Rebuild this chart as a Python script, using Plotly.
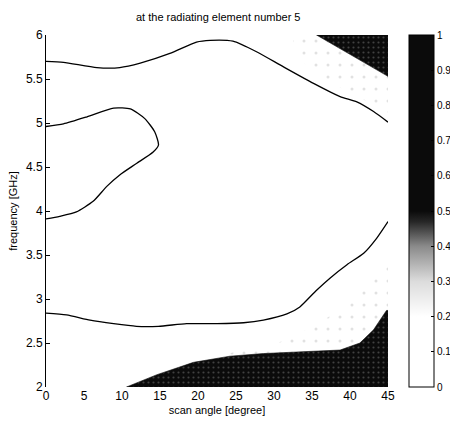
import plotly.graph_objects as go

# ---- data ----
# contour line 1 (upper)
c1_x = [0, 2.3, 6.7, 9.7, 12.4, 16.3, 19.8, 21.6, 24.6, 27.7, 31.2, 35.2, 38.7, 40.9, 43.1, 45]
c1_y = [5.70, 5.69, 5.63, 5.63, 5.68, 5.79, 5.92, 5.94, 5.93, 5.81, 5.64, 5.45, 5.30, 5.24, 5.13, 5.01]
# contour line 2 (loop on the left)
c2_x = [0, 2.3, 5.4, 8.9, 11.1, 13.0, 14.3, 14.8, 14.1, 11.9, 9.7, 8.0, 6.2, 4.0, 1.8, 0]
c2_y = [4.96, 4.99, 5.07, 5.17, 5.16, 5.05, 4.90, 4.75, 4.67, 4.54, 4.41, 4.28, 4.11, 3.99, 3.94, 3.91]
# contour line 3 (lower)
c3_x = [0, 2.7, 5.8, 8.9, 11.9, 14.8, 18.5, 22.5, 26.0, 28.6, 31.7, 33.4, 35.6, 37.4, 39.6, 41.8, 43.5, 45]
c3_y = [2.84, 2.82, 2.76, 2.72, 2.69, 2.69, 2.72, 2.72, 2.73, 2.76, 2.83, 2.91, 3.10, 3.24, 3.39, 3.52, 3.69, 3.88]

# dark filled region, bottom right
d1_x = [10.6, 14.6, 19.4, 24.2, 28.6, 33.0, 38.7, 41.3, 43.1, 44.8, 45, 45, 10.6]
d1_y = [2.00, 2.14, 2.28, 2.35, 2.38, 2.40, 2.42, 2.50, 2.65, 2.87, 2.87, 2.00, 2.00]
# dark filled region, top right
d2_x = [35.6, 45, 45, 35.6]
d2_y = [6.00, 6.00, 5.53, 6.00]

# light (stippled) region around the top right dark area
l1_x = [32.5, 35.6, 45, 45, 41, 37, 34, 32.5]
l1_y = [6.00, 6.00, 5.53, 5.12, 5.30, 5.48, 5.68, 5.88]
# light (stippled) region above the bottom right dark area
l2_x = [19.4, 25, 30, 35, 40, 43, 45, 45, 44.8, 43.1, 41.3, 38.7, 33.0, 28.6, 24.2, 19.4]
l2_y = [2.28, 2.40, 2.48, 2.68, 2.95, 3.20, 3.40, 2.87, 2.87, 2.65, 2.50, 2.42, 2.40, 2.38, 2.35, 2.28]

x_ticks = [0, 5, 10, 15, 20, 25, 30, 35, 40, 45]
y_ticks = [2, 2.5, 3, 3.5, 4, 4.5, 5, 5.5, 6]
cb_ticks = [0, 0.1, 0.2, 0.3, 0.4, 0.5, 0.6, 0.7, 0.8, 0.9, 1]
cb_labels = ["0", "0.1", "0.2", "0.3", "0.4", "0.5", "0.6", "0.7", "0.8", "0.9", "1"]

FONT = "Liberation Sans, Arial, sans-serif"

fig = go.Figure()

stipple = dict(shape=".", fgcolor="#c4c4c4", bgcolor="white", size=12, solidity=0.05)
for lx, ly in [(l1_x, l1_y), (l2_x, l2_y)]:
    fig.add_trace(go.Scatter(x=lx, y=ly, mode="lines", fill="toself",
                             fillcolor="white", fillpattern=stipple,
                             line=dict(width=0), hoverinfo="skip", showlegend=False))

dark_pat = dict(shape=".", fgcolor="#777777", bgcolor="#0b0b0b", size=5, solidity=0.15)
for dx, dy in [(d1_x, d1_y), (d2_x, d2_y)]:
    fig.add_trace(go.Scatter(x=dx, y=dy, mode="lines", fill="toself",
                             fillcolor="#0b0b0b", fillpattern=dark_pat,
                             line=dict(width=0.6, color="#0b0b0b"),
                             hoverinfo="skip", showlegend=False))

for cx, cy in [(c1_x, c1_y), (c2_x, c2_y), (c3_x, c3_y)]:
    fig.add_trace(go.Scatter(x=cx, y=cy, mode="lines",
                             line=dict(color="black", width=1.3, shape="spline", smoothing=0.6),
                             hoverinfo="skip", showlegend=False))

# colorbar carrier
fig.add_trace(go.Scatter(
    x=[None], y=[None], mode="markers", showlegend=False,
    marker=dict(color=[0], cmin=0, cmax=1, showscale=True,
                colorscale=[[0, "white"], [0.2, "white"], [0.3, "#dcdcdc"],
                            [0.4, "#8a8a8a"], [0.47, "#262626"], [0.5, "#0b0b0b"], [1, "#0b0b0b"]],
                colorbar=dict(x=1.06, xanchor="left", xpad=0, y=0.5, yanchor="middle",
                              len=1.0, lenmode="fraction", thickness=25, ypad=0,
                              outlinecolor="black", outlinewidth=1,
                              tickvals=cb_ticks, ticktext=cb_labels,
                              ticks="inside", ticklen=3, tickcolor="black",
                              tickfont=dict(family=FONT, size=10, color="black")))))

fig.update_layout(
    width=450, height=425,
    margin=dict(l=46, r=62, t=35, b=38, autoexpand=False),
    paper_bgcolor="white", plot_bgcolor="white",
    title=dict(text="at the radiating element number 5", x=0.485, xanchor="center",
               y=0.96, yanchor="middle", font=dict(family=FONT, size=11, color="black")),
    font=dict(family=FONT, color="black"),
)
fig.update_xaxes(range=[0, 45], tickvals=x_ticks, showgrid=False, zeroline=False,
                 showline=False, ticks="", tickfont=dict(size=12),
                 title=dict(text="scan angle [degree]", font=dict(size=11), standoff=4))
fig.update_yaxes(range=[2, 6], tickvals=y_ticks, showgrid=False, zeroline=False,
                 showline=True, linecolor="black", linewidth=1, ticks="inside",
                 ticklen=4, tickcolor="black", tickfont=dict(size=12),
                 title=dict(text="frequency [GHz]", font=dict(size=11), standoff=6))

fig.write_html("out.html", config={"displayModeBar": False},
               post_script="document.body.style.margin='0';document.body.style.overflow='hidden';")
